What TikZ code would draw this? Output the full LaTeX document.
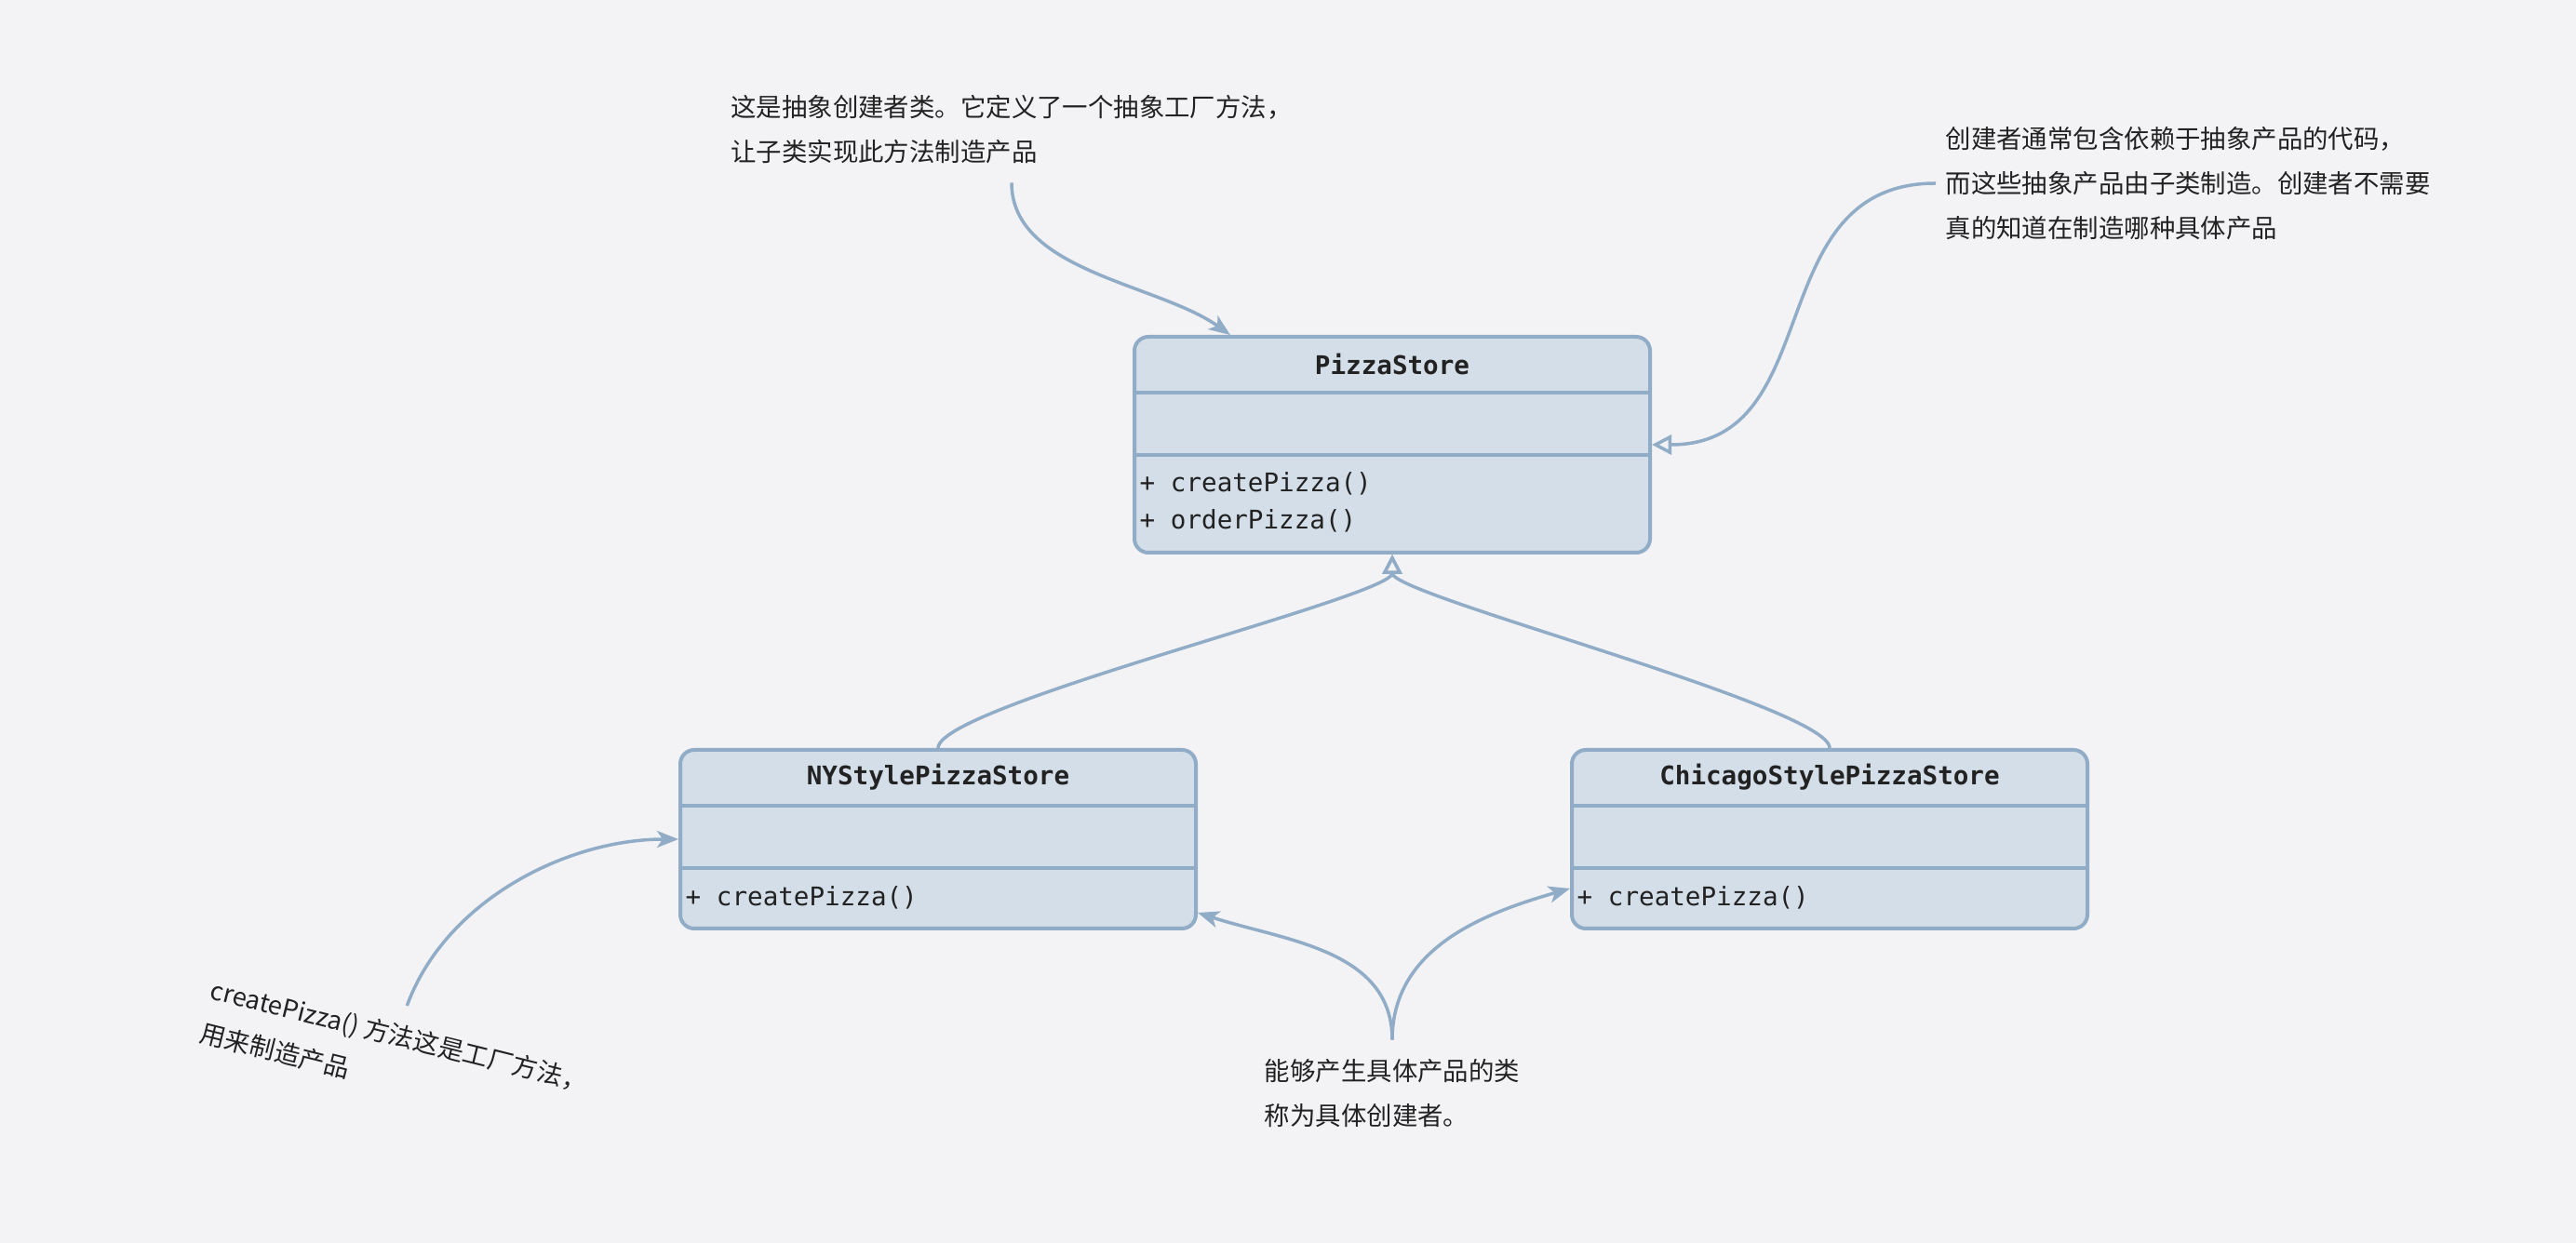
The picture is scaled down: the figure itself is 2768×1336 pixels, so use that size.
\documentclass[tikz,border=0pt]{standalone}
\usepackage{fontspec}
\newfontfamily\notefont{Noto Sans CJK SC}
\newfontfamily\codefont{DejaVu Sans Mono}
\usetikzlibrary{arrows.meta, positioning, calc}

\definecolor{bgcol}{HTML}{F3F3F6}
\definecolor{boxfill}{HTML}{D3DEE8}
\definecolor{boxline}{HTML}{91ACC6}
\definecolor{inkcol}{HTML}{222222}

\begin{document}
\begin{tikzpicture}[x=0.1mm, y=0.1mm,
    classbox/.style={draw=boxline, fill=boxfill, line width=0.4mm,
                     rounded corners=1.5mm, minimum width=55.4mm, inner sep=0},
    classname/.style={font=\codefont\bfseries\fontsize{7.85}{9}\selectfont,
                      text=inkcol, inner sep=0},
    member/.style={font=\codefont\fontsize{7.85}{9}\selectfont,
                   text=inkcol, inner sep=0, anchor=west},
    divider/.style={draw=boxline, line width=0.35mm},
    note/.style={font=\notefont\fontsize{7.8}{13.6}\selectfont, text=inkcol,
                 align=left, inner xsep=1mm, inner ysep=2mm},
    arrow/.style={draw=boxline, line width=0.35mm,
                  -{Stealth[length=2.3mm, width=1.8mm, inset=0.6mm]}},
    inherit/.style={draw=boxline, line width=0.35mm,
                    -{Triangle[open, length=2.1mm, width=2.1mm, fill=bgcol]}}
]

% Canvas
\fill[bgcol] (0,0) rectangle (2768,-1336);

% Abstract creator
\node[classbox, minimum height=23.2mm] (store) at (1496,-478) {};
\node[classname] (storename) at ($(store.north)+(0,-31)$) {PizzaStore};
\draw[divider] ($(store.north west)+(0,-62)$) -- ($(store.north east)+(0,-62)$);
\draw[divider] ($(store.north west)+(0,-129)$) -- ($(store.north east)+(0,-129)$);
\node[member] (storeop1) at ($(store.north west)+(7,-160)$) {+ createPizza()};
\node[member] (storeop2) at ($(store.north west)+(7,-200)$) {+ orderPizza()};

% Concrete creators
\node[classbox, minimum height=19.2mm] (nystore) at (1008,-902) {};
\node[classname] (nyname) at ($(nystore.north)+(0,-31)$) {NYStylePizzaStore};
\draw[divider] ($(nystore.north west)+(0,-62)$) -- ($(nystore.north east)+(0,-62)$);
\draw[divider] ($(nystore.north west)+(0,-129)$) -- ($(nystore.north east)+(0,-129)$);
\node[member] (nyop) at ($(nystore.north west)+(7,-161)$) {+ createPizza()};

\node[classbox, minimum height=19.2mm] (chicago) at (1966,-902) {};
\node[classname] (chicagoname) at ($(chicago.north)+(0,-31)$) {ChicagoStylePizzaStore};
\draw[divider] ($(chicago.north west)+(0,-62)$) -- ($(chicago.north east)+(0,-62)$);
\draw[divider] ($(chicago.north west)+(0,-129)$) -- ($(chicago.north east)+(0,-129)$);
\node[member] (chicagoop) at ($(chicago.north west)+(7,-161)$) {+ createPizza()};

% Notes
\node[note] (abstractnote) at (1087,-139)
    {这是抽象创建者类。它定义了一个抽象工厂方法，\\让子类实现此方法制造产品};
\node[note, anchor=west] (dependnote) at (2080,-197)
    {创建者通常包含依赖于抽象产品的代码，\\而这些抽象产品由子类制造。创建者不需要\\真的知道在制造哪种具体产品};
\node[note, anchor=north west, rotate=-14] (methodnote) at (225,-1028)
    {createPizza() 方法这是工厂方法，\\用来制造产品};
\node[note] (concretenote) at (1496,-1175)
    {能够产生具体产品的类\\称为具体创建者。};

% Inheritance
\draw[inherit] (nystore.north) to[out=90, in=-90, looseness=0.22] (store.south);
\draw[inherit] (chicago.north) to[out=90, in=-90, looseness=0.22] (store.south);

% Note connectors
\draw[arrow] (abstractnote.south) to[out=-90, in=144.5, looseness=0.85]
    ([xshift=10.5mm]store.north west);
\draw[inherit] (dependnote.west) to[out=180, in=0, looseness=1.18] (store.east);
\draw[arrow] (methodnote.north) to[out=70, in=180, looseness=0.9] (nystore.west);
\draw[arrow] (concretenote.north) to[out=90, in=-18]
    ([yshift=1.9mm]nystore.south east);
\draw[arrow] (concretenote.north) to[out=90, in=196]
    ([yshift=4.5mm]chicago.south west);

\end{tikzpicture}
\end{document}
